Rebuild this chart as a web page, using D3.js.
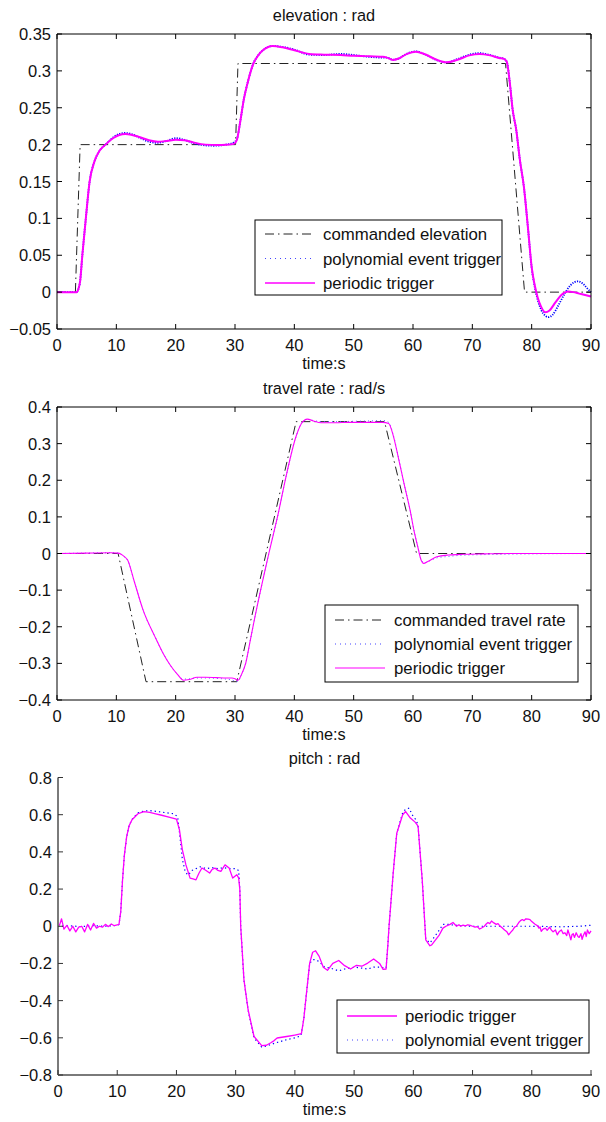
<!DOCTYPE html>
<html><head><meta charset="utf-8">
<script src="https://cdn.jsdelivr.net/npm/d3@7"></script>
<style>
body{margin:0;background:#fff;}
svg text{font-family:"Liberation Sans",Arial,Helvetica,sans-serif;fill:#111;}
</style></head>
<body><svg id="c" width="606" height="1122"></svg>
<script>
// ---------- DATA ----------
const xTicks = [0,10,20,30,40,50,60,70,80,90];
const elevTicks = [-0.05,0,0.05,0.1,0.15,0.2,0.25,0.3,0.35];
const travelTicks = [-0.4,-0.3,-0.2,-0.1,0,0.1,0.2,0.3,0.4];
const pitchTicks = [-0.8,-0.6,-0.4,-0.2,0,0.2,0.4,0.6,0.8];
const titles = ["elevation : rad","travel rate : rad/s","pitch : rad"];
const xLabel = "time:s";
const legend1 = ["commanded elevation","polynomial event trigger","periodic trigger"];
const legend2 = ["commanded travel rate","polynomial event trigger","periodic trigger"];
const legend3 = ["periodic trigger","polynomial event trigger"];

const elevCmd = [[0,0],[3.1,0],[3.9,0.2],[30.1,0.2],[30.5,0.31],[75.6,0.31],[78.8,0],[90,0]];
const elevPeriodic = [[0,0],[3.3,0],[3.6,0.004],[3.9,0.015],[4.27,0.05],[4.86,0.1],[5.5,0.15],[6.3,0.177],[7.2,0.192],[8.3,0.201],[9.5,0.209],[10.5,0.213],[11.5,0.2143],[12.5,0.2135],[14,0.21],[15.5,0.206],[17,0.204],[18.5,0.205],[20,0.2066],[21.5,0.206],[23,0.203],[25,0.2],[27,0.1994],[28.5,0.1998],[29.8,0.201],[30.3,0.206],[30.9,0.232],[31.5,0.262],[32.1,0.283],[33.1,0.31],[34,0.322],[34.7,0.328],[35.5,0.332],[36.3,0.3337],[38,0.332],[40,0.328],[42.5,0.323],[45,0.322],[47.8,0.3215],[50,0.3205],[52,0.32],[54.9,0.319],[55.6,0.318],[56.6,0.3148],[57.5,0.3165],[59,0.323],[60.5,0.326],[62,0.3225],[64,0.315],[65.7,0.3116],[67.5,0.315],[69.5,0.321],[71.2,0.323],[73,0.321],[74.5,0.3175],[75.4,0.316],[75.8,0.3125],[76.3,0.285],[76.8,0.247],[77.4,0.22],[78.0,0.18],[78.7,0.142],[79.4,0.085],[80.0,0.034],[80.5,0.01],[81.0,-0.007],[81.6,-0.02],[82.3,-0.0274],[83.0,-0.025],[84,-0.014],[85,-0.004],[86.2,0.0007],[87,0.0],[88,-0.002],[89,-0.004],[90,-0.006]];
const elevPoly = [[0,0],[3.3,0],[3.6,0.004],[3.9,0.015],[4.27,0.05],[4.86,0.1],[5.5,0.15],[6.3,0.177],[7.2,0.192],[8.3,0.201],[9.5,0.21],[10.5,0.2145],[11.5,0.2158],[12.5,0.2145],[14,0.209],[15.5,0.204],[17,0.2025],[18.5,0.205],[20,0.2088],[21.5,0.2065],[23,0.202],[25,0.199],[26.5,0.1985],[28.5,0.2],[29.8,0.203],[30.3,0.207],[30.9,0.232],[31.5,0.262],[32.1,0.283],[33.1,0.31],[34,0.322],[34.7,0.328],[35.5,0.332],[36.3,0.3337],[38,0.3325],[40,0.329],[42.5,0.322],[45,0.3215],[47.8,0.323],[50,0.3215],[52,0.3195],[54.9,0.318],[55.6,0.318],[56.6,0.315],[57.5,0.3165],[59,0.3235],[60.5,0.3265],[62,0.3225],[64,0.3145],[65.7,0.3115],[67.5,0.316],[69.5,0.322],[71.2,0.324],[73,0.3215],[74.5,0.318],[75.4,0.316],[75.8,0.3125],[76.3,0.285],[76.8,0.247],[77.4,0.22],[78.0,0.18],[78.7,0.142],[79.4,0.085],[80.0,0.033],[80.5,0.008],[81,-0.01],[81.6,-0.024],[82.3,-0.032],[82.8,-0.034],[83.5,-0.031],[84.5,-0.018],[85.5,-0.003],[86.5,0.009],[87.8,0.0147],[88.7,0.011],[89.5,0.004],[90,0.0]];

const travelCmd = [[0,0],[10.3,0],[15,-0.35],[30.3,-0.35],[40.3,0.36],[55.2,0.36],[60.6,0],[90,0]];
const travelPeriodic = [[0,0],[5,0.001],[9,0.002],[10.3,0.001],[10.8,-0.002],[11.3,-0.008],[11.9,-0.018],[13,-0.075],[14.5,-0.154],[16.5,-0.227],[17.8,-0.27],[19.1,-0.305],[20.3,-0.33],[21.3,-0.346],[22.3,-0.344],[23.6,-0.338],[25,-0.338],[26.9,-0.339],[28.5,-0.34],[29.5,-0.34],[30.0,-0.342],[30.5,-0.346],[31.1,-0.33],[31.8,-0.3],[32.6,-0.235],[33.4,-0.17],[35,-0.05],[35.7,0],[37.3,0.11],[38.6,0.21],[40.3,0.32],[41.2,0.355],[42.2,0.367],[43.2,0.362],[44.5,0.357],[47,0.357],[49.1,0.358],[52,0.358],[54.9,0.358],[55.9,0.355],[56.7,0.32],[57.5,0.264],[58.5,0.19],[59.5,0.119],[60.2,0.06],[60.8,0.019],[61.3,-0.015],[61.8,-0.027],[62.5,-0.022],[64,-0.009],[66,-0.004],[68.6,-0.002],[72,-0.001],[77,0],[90,0]];
const travelPoly = [[0,0],[5,0.001],[9,0.002],[10.3,0.001],[10.8,-0.002],[11.3,-0.008],[11.9,-0.018],[13,-0.075],[14.5,-0.154],[16.5,-0.227],[17.8,-0.27],[19.1,-0.305],[20.3,-0.33],[21.3,-0.343],[22.3,-0.342],[23.6,-0.34],[25,-0.34],[26.9,-0.341],[28.5,-0.343],[29.5,-0.345],[30.3,-0.35],[30.7,-0.345],[31.1,-0.33],[31.8,-0.3],[32.6,-0.235],[33.4,-0.17],[35,-0.05],[35.7,0],[37.3,0.11],[38.6,0.21],[40.3,0.32],[41.2,0.356],[42.2,0.366],[43.2,0.363],[44.5,0.36],[47,0.36],[50,0.361],[53,0.362],[55,0.363],[55.9,0.358],[56.7,0.322],[57.5,0.266],[58.5,0.19],[59.5,0.119],[60.2,0.06],[60.8,0.018],[61.3,-0.014],[61.9,-0.025],[62.5,-0.022],[64,-0.012],[66,-0.008],[68,-0.005],[72,-0.003],[80,-0.001],[90,0]];

const pitchPeriodic = [[0,0],[0.3,0.01],[0.6,0.04],[1,-0.015],[1.5,0.005],[2,-0.025],[2.5,0.0],[3,-0.03],[3.5,-0.005],[4,0.0],[4.5,-0.03],[5,0.01],[5.5,-0.02],[6,0.015],[6.5,-0.01],[7,0.0],[7.5,-0.005],[8,0.01],[8.5,-0.002],[9,0.012],[9.5,0.003],[10,0.008],[10.3,0.01],[10.6,0.08],[10.9,0.25],[11.2,0.38],[11.6,0.483],[12.0,0.54],[12.5,0.5725],[13.5,0.605],[14.5,0.617],[15.5,0.613],[16.5,0.605],[17.5,0.597],[18.4,0.59],[19.2,0.583],[20,0.576],[20.5,0.52],[21,0.411],[21.6,0.33],[22.3,0.259],[22.8,0.255],[23.3,0.25],[23.8,0.285],[24.3,0.313],[25,0.3],[25.6,0.286],[26.0,0.305],[26.5,0.313],[27,0.3],[27.5,0.295],[28.2,0.33],[28.9,0.313],[29.5,0.259],[30.2,0.277],[30.5,0.26],[30.7,0.2],[30.85,0.0],[31.4,-0.288],[32.1,-0.449],[33.1,-0.593],[34.4,-0.642],[35.2,-0.64],[36,-0.625],[36.5,-0.615],[37,-0.601],[38.6,-0.593],[40,-0.585],[41.1,-0.578],[41.5,-0.5],[41.9,-0.377],[42.5,-0.198],[43.0,-0.14],[43.5,-0.132],[44.1,-0.162],[44.8,-0.22],[45.5,-0.237],[46.4,-0.2],[47.4,-0.184],[48.4,-0.212],[49.4,-0.23],[50.4,-0.21],[51.3,-0.215],[52.3,-0.198],[53.3,-0.176],[54.3,-0.2],[54.9,-0.232],[55.4,-0.23],[55.7,-0.1],[55.9,0],[56.6,0.286],[57.2,0.5],[58.2,0.6],[58.7,0.617],[59.5,0.582],[60.3,0.56],[60.8,0.538],[61.5,0.25],[62.1,-0.073],[62.8,-0.105],[63.1,-0.1],[64.4,-0.046],[65,-0.01],[65.5,0.0],[66.2,0.01],[66.7,0.02],[67.3,0.0],[67.7,0.008],[68,0.0],[68.4,0.006],[68.8,0.002],[69.2,0.008],[69.6,0.005],[70.0,0.0],[70.4,-0.005],[70.8,-0.002],[71.2,-0.015],[71.6,-0.008],[72,0.0],[72.3,0.012],[72.6,0.02],[72.9,0.014],[73.2,0.028],[73.6,0.018],[74,0.01],[74.3,0.014],[74.6,0.002],[75,-0.008],[75.4,-0.02],[75.8,-0.03],[76.1,-0.046],[76.5,-0.03],[76.8,-0.02],[77.1,-0.005],[77.4,0.0],[77.8,0.02],[78.1,0.03],[78.4,0.036],[78.7,0.03],[79,0.04],[79.4,0.038],[79.7,0.036],[80.0,0.025],[80.2,0.02],[80.5,0.012],[80.7,0.008],[81.0,0.002],[81.2,-0.01],[81.4,-0.004],[81.6,-0.028],[81.9,-0.015],[82.3,-0.01],[82.6,-0.022],[83,-0.005],[83.3,-0.02],[83.6,-0.03],[84,-0.02],[84.3,-0.046],[84.6,-0.03],[85,-0.02],[85.3,-0.04],[85.6,-0.035],[85.9,-0.05],[86.1,-0.02],[86.4,-0.05],[86.6,-0.073],[86.8,-0.045],[87,-0.04],[87.2,-0.06],[87.5,-0.035],[87.8,-0.055],[88,-0.06],[88.3,-0.04],[88.5,-0.07],[88.7,-0.05],[89,-0.03],[89.2,-0.055],[89.4,-0.02],[89.7,-0.04],[90,-0.025]];
const pitchPoly = [[0,0],[2,0.002],[4,-0.002],[6,0.003],[8,0.0],[10,0.005],[10.3,0.01],[10.6,0.08],[10.9,0.25],[11.2,0.38],[11.6,0.48],[12,0.54],[12.5,0.575],[13.5,0.61],[14.5,0.62],[15.5,0.622],[16.5,0.618],[17.5,0.614],[18.4,0.61],[19.5,0.605],[20.2,0.59],[20.6,0.48],[21,0.36],[21.5,0.29],[22,0.275],[22.6,0.3],[23.3,0.31],[24,0.32],[25,0.31],[26,0.315],[27,0.31],[28,0.315],[29,0.31],[30,0.31],[30.5,0.3],[30.7,0.2],[30.85,0.0],[31.4,-0.29],[32.1,-0.45],[33.1,-0.6],[34.4,-0.65],[35.2,-0.645],[36,-0.635],[37,-0.625],[38.6,-0.61],[40,-0.6],[41,-0.59],[41.5,-0.5],[41.9,-0.377],[42.5,-0.2],[43,-0.18],[43.5,-0.18],[44.1,-0.19],[45,-0.22],[46,-0.225],[47.4,-0.24],[48.4,-0.23],[50,-0.22],[51.3,-0.225],[52.3,-0.23],[53.3,-0.22],[54.3,-0.22],[55.4,-0.225],[55.7,-0.1],[55.9,0],[56.6,0.286],[57.2,0.5],[58.2,0.61],[58.7,0.63],[59.3,0.635],[59.8,0.6],[60.5,0.57],[60.8,0.54],[61.5,0.25],[62.1,-0.07],[62.8,-0.09],[63.5,-0.06],[64.4,-0.02],[65,0.01],[66,0.01],[67,0.005],[70,0.0],[75,0.0],[80,0.0],[85,-0.003],[88,0.0],[90,0.005]];

// ---------- DRAW ----------
const svg = d3.select("#c");
const fmt = d3.format("");
const CMD = {stroke:"#222", width:1, dash:"9,4,1.5,4"};
const MAG = (w)=>({stroke:"#ff00ff", width:w, dash:null});
const BLU = (w,d,c)=>({stroke:c||"#0000ff", width:w, dash:d});

function panel(o){
  const x = d3.scaleLinear().domain([0,90]).range([o.left,o.right]);
  const y = d3.scaleLinear().domain(o.domain).range([o.bottom,o.top]);
  const g = svg.append("g");
  const axColor = o.gray ? "#7a7a7a" : "#000";
  const axW = o.gray ? 2 : 1;
  const line = d3.line().x(d=>x(d[0])).y(d=>y(d[1])).curve(d3.curveMonotoneX);
  const lineLin = d3.line().x(d=>x(d[0])).y(d=>y(d[1]));
  o.series.forEach(s=>{
    g.append("path").attr("d",(s.linear?lineLin:line)(s.data)).attr("fill","none")
     .attr("stroke",s.style.stroke).attr("stroke-width",s.style.width)
     .attr("stroke-dasharray",s.style.dash).attr("stroke-linejoin","round");
  });
  const ax = g.append("g").attr("stroke",axColor).attr("stroke-width",axW).attr("fill","none");
  ax.append("line").attr("x1",o.left).attr("x2",o.right+(o.gray?1:0)).attr("y1",o.bottom).attr("y2",o.bottom);
  ax.append("line").attr("x1",o.left).attr("x2",o.left).attr("y1",o.top).attr("y2",o.bottom);
  if(!o.gray){
    ax.append("line").attr("x1",o.left).attr("x2",o.right).attr("y1",o.top).attr("y2",o.top);
    ax.append("line").attr("x1",o.right).attr("x2",o.right).attr("y1",o.top).attr("y2",o.bottom);
  }
  const tl = 5;
  const tk = g.append("g").attr("stroke",o.gray?"#333":"#000").attr("stroke-width",1);
  xTicks.forEach(t=>{
    tk.append("line").attr("x1",x(t)).attr("x2",x(t)).attr("y1",o.bottom).attr("y2",o.bottom-tl);
    if(!o.gray) tk.append("line").attr("x1",x(t)).attr("x2",x(t)).attr("y1",o.top).attr("y2",o.top+tl);
    g.append("text").attr("x",x(t)).attr("y",o.bottom+21.5).attr("text-anchor","middle")
     .attr("font-size",16.5).text(fmt(t));
  });
  o.yTicks.forEach(t=>{
    tk.append("line").attr("x1",o.left).attr("x2",o.left+tl).attr("y1",y(t)).attr("y2",y(t));
    if(!o.gray) tk.append("line").attr("x1",o.right).attr("x2",o.right-tl).attr("y1",y(t)).attr("y2",y(t));
    g.append("text").attr("x",o.left-6).attr("y",y(t)+6).attr("text-anchor","end")
     .attr("font-size",16.5).text(fmt(t));
  });
  g.append("text").attr("x",(o.left+o.right)/2).attr("y",o.top-13.5).attr("text-anchor","middle")
   .attr("font-size",16.3).text(o.title);
  g.append("text").attr("x",(o.left+o.right)/2).attr("y",o.bottom+39.5).attr("text-anchor","middle")
   .attr("font-size",16.3).text(xLabel);
  const L = o.legend;
  g.append("rect").attr("x",L.x0).attr("y",L.y0).attr("width",L.x1-L.x0).attr("height",L.y1-L.y0)
   .attr("fill","#fff").attr("stroke","#000").attr("stroke-width",1);
  L.items.forEach((it,i)=>{
    const yy = L.rows[i];
    g.append("line").attr("x1",L.sx0).attr("x2",L.sx1).attr("y1",yy).attr("y2",yy)
     .attr("stroke",it.style.stroke).attr("stroke-width",Math.min(it.style.width,1.5))
     .attr("stroke-dasharray",it.style.dash);
    g.append("text").attr("x",L.tx).attr("y",yy+6).attr("font-size",16.8).text(it.label);
  });
}

const e1=CMD, e2=BLU(1.8,"1.2,1.3"), e3=MAG(2);
panel({left:57,right:591,top:34,bottom:329,domain:[-0.05,0.35],yTicks:elevTicks,title:titles[0],
  series:[{data:elevCmd,style:e1,linear:true},{data:elevPoly,style:e2},{data:elevPeriodic,style:e3}],
  legend:{x0:255,x1:502,y0:220,y1:295,rows:[234,258.5,283],sx0:265,sx1:315,tx:323,
    items:[{label:legend1[0],style:e1},{label:legend1[1],style:BLU(1,"1,4","#4444ff")},{label:legend1[2],style:MAG(1.5)}]}});

const t1=CMD, t2=BLU(1,"1,3","#5a5aff"), t3=MAG(1.1);
panel({left:57,right:591,top:407,bottom:700,domain:[-0.4,0.4],yTicks:travelTicks,title:titles[1],
  series:[{data:travelCmd,style:t1,linear:true},{data:travelPoly,style:t2},{data:travelPeriodic,style:t3}],
  legend:{x0:325,x1:578,y0:605,y1:682,rows:[620,644,668],sx0:335,sx1:385,tx:394,
    items:[{label:legend2[0],style:t1},{label:legend2[1],style:BLU(1,"1,4","#4444ff")},{label:legend2[2],style:t3}]}});

const p1=MAG(1.3), p2=BLU(1.2,"1.3,3");
panel({left:58,right:591,top:777.5,bottom:1075,domain:[-0.8,0.8],yTicks:pitchTicks,title:titles[2],gray:true,
  series:[{data:pitchPoly,style:p2,linear:true},{data:pitchPeriodic,style:p1,linear:true}],
  legend:{x0:337,x1:589,y0:1000,y1:1053,rows:[1016,1040],sx0:347,sx1:397,tx:405,
    items:[{label:legend3[0],style:p1},{label:legend3[1],style:BLU(1,"1,4","#4444ff")}]}});
</script></body></html>
